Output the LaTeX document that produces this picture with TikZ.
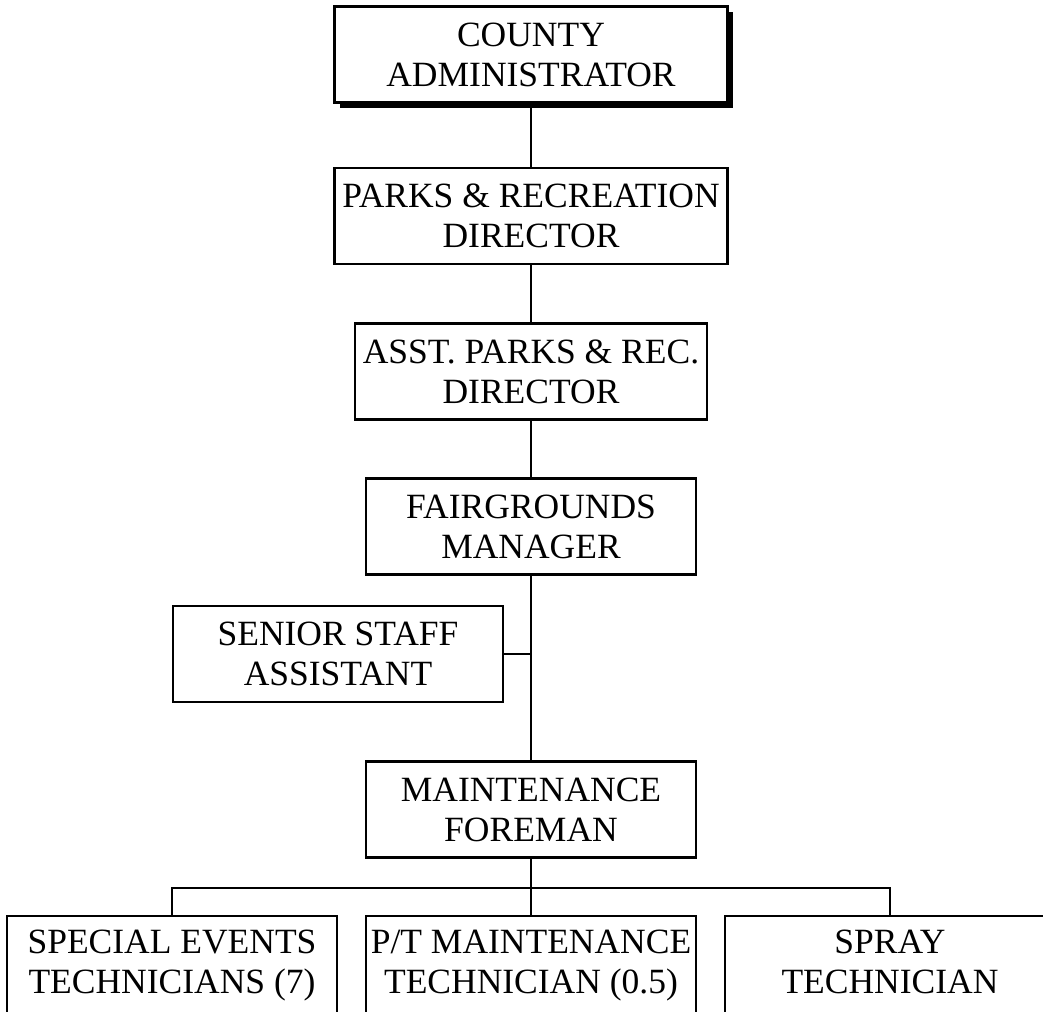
\documentclass[tikz,border=0pt]{standalone}
\usepackage{fontspec}
\setmainfont{Liberation Serif}
\usetikzlibrary{shadows}
\begin{document}
\begin{tikzpicture}[x=1pt,y=-1pt,
  post/.style={draw=black, line width=2.5pt, fill=white, align=center,
    minimum height=96pt, inner sep=0pt,
    font=\fontsize{35.5}{40}\selectfont},
  wide/.style={post, minimum width=393pt},
  mid/.style={post, minimum width=352pt},
  std/.style={post, minimum width=330pt},
  tall/.style={std, minimum height=100pt},
  link/.style={line width=2.5pt}]
\useasboundingbox (0,0) rectangle (1043,1011);

% chain of command
\node[wide, drop shadow={shadow xshift=5.5pt, shadow yshift=-5.5pt, opacity=1, fill=black}]
  (ca) at (531,54.5) {COUNTY\\ADMINISTRATOR};
\node[wide] (prd) at (531,216) {PARKS \& RECREATION\\DIRECTOR};
\node[mid]  (asst) at (531,371.5) {ASST. PARKS \& REC.\\DIRECTOR};
\node[std]  (fm) at (531,526.5) {FAIRGROUNDS\\MANAGER};
\node[std]  (ssa) at (338,654) {SENIOR STAFF\\ASSISTANT};
\node[std]  (mf) at (531,809.5) {MAINTENANCE\\FOREMAN};

% field staff
\node[tall] (b1) at (172,966) {SPECIAL EVENTS\\TECHNICIANS (7)};
\node[tall] (b2) at (531,966) {P/T MAINTENANCE\\TECHNICIAN (0.5)};
\node[tall] (b3) at (890,966) {SPRAY\\TECHNICIAN\vphantom{()}};

\coordinate (bar) at (531,888);

\draw[link] (ca.south) -- (prd.north);
\draw[link] (prd.south) -- (asst.north);
\draw[link] (asst.south) -- (fm.north);
\draw[link] (fm.south) -- (mf.north);
\draw[link] (ssa.east) -- (ssa.east -| fm.south);
\draw[link] (mf.south) -- (b2.north);
\draw[link] (b1.north) |- (bar) -| (b3.north);
\end{tikzpicture}
\end{document}
